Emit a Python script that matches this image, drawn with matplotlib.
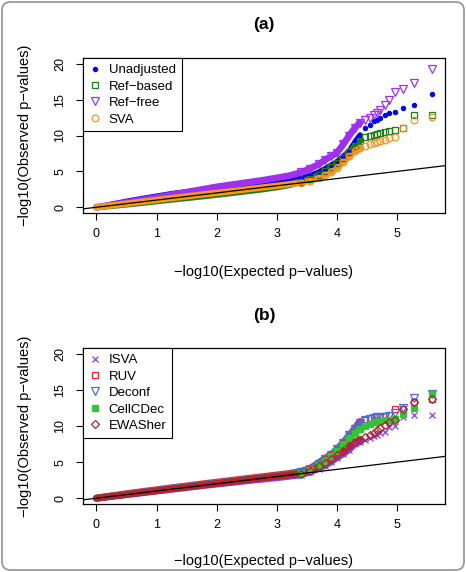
import matplotlib
matplotlib.use("Agg")
import matplotlib.pyplot as plt
from matplotlib.lines import Line2D
from matplotlib.patches import FancyBboxPatch

plt.rcParams["font.family"] = ["Liberation Sans", "DejaVu Sans"]

# --------------------------------------------------
# QQ data: shared expected -log10(p) grid, observed per method
# --------------------------------------------------
expected = [0, 0.25, 0.5, 0.75, 1.0, 1.25, 1.5, 1.75, 2.0, 2.25, 2.5, 2.75,
            3.0, 3.2, 3.4, 3.55, 3.7, 3.8, 3.9, 4.0, 4.1, 4.2, 4.3, 4.38,
            4.46, 4.54, 4.62, 4.67, 4.72, 4.79, 4.87, 4.97, 5.09, 5.27, 5.57]

# panel (a)
unadjusted = [0, 0.45, 0.86, 1.23, 1.58, 1.92, 2.2, 2.48, 2.72, 2.95, 3.15, 3.35,
              3.55, 3.75, 4.05, 4.45, 4.95, 5.4, 5.9, 6.4, 7.1, 7.9, 9.2, 10.1,
              11.1, 11.5, 12.0, 12.2, 12.4, 12.8, 13.1, 13.3, 13.8, 14.2, 15.8]
ref_based = [0, 0.2, 0.4, 0.62, 0.85, 1.08, 1.3, 1.52, 1.75, 2.0, 2.25, 2.5,
             2.8, 3.1, 3.55, 3.95, 4.5, 5.0, 5.6, 6.1, 6.8, 7.7, 8.5, 9.2,
             9.8, 10.0, 10.1, 10.2, 10.3, 10.5, 10.6, 10.7, 11.1, 12.9, 12.9]
ref_free = [0, 0.32, 0.66, 1.02, 1.38, 1.74, 2.1, 2.48, 2.85, 3.15, 3.45, 3.75,
            4.1, 4.4, 4.85, 5.4, 6.0, 6.6, 7.1, 7.6, 8.75, 10.0, 11.1, 11.8,
            12.1, 12.5, 12.8, 13.1, 13.5, 14.2, 15.0, 16.1, 16.5, 17.3, 19.3]
sva = [0, 0.25, 0.5, 0.77, 1.02, 1.27, 1.52, 1.77, 2.0, 2.25, 2.5, 2.75,
       3.0, 3.2, 3.45, 3.7, 4.1, 4.5, 4.9, 5.5, 6.3, 7.1, 7.8, 8.2,
       8.5, 8.8, 9.0, 9.1, 9.2, 9.4, 9.7, 9.8, 11.0, 12.2, 12.6]

# panel (b)
isva = [0, 0.24, 0.48, 0.72, 0.97, 1.2, 1.45, 1.7, 1.92, 2.15, 2.38, 2.6,
        2.8, 3.0, 3.2, 3.6, 4.1, 4.5, 5.0, 5.6, 6.1, 6.7, 7.5, 7.8,
        8.1, 8.4, 8.6, 8.75, 9.0, 9.2, 9.8, 10.0, 11.2, 11.5, 11.5]
ruv = [0, 0.3, 0.6, 0.88, 1.15, 1.42, 1.68, 1.95, 2.2, 2.45, 2.7, 2.95,
       3.2, 3.4, 3.7, 4.1, 4.9, 5.5, 6.0, 6.7, 7.6, 8.6, 9.7, 10.6,
       10.9, 11.1, 11.2, 11.3, 11.3, 11.4, 11.5, 12.3, 12.4, 13.3, 13.7]
deconf = [0, 0.28, 0.55, 0.83, 1.1, 1.37, 1.63, 1.88, 2.12, 2.37, 2.62, 2.86,
          3.1, 3.32, 3.6, 4.0, 4.8, 5.4, 6.0, 6.8, 7.7, 8.7, 9.6, 10.4,
          10.8, 11.0, 11.1, 11.2, 11.2, 11.3, 11.4, 11.8, 12.5, 13.9, 14.5]
cellcdec = [0, 0.27, 0.53, 0.8, 1.06, 1.32, 1.58, 1.84, 2.1, 2.35, 2.6, 2.85,
            3.1, 3.3, 3.55, 3.9, 4.6, 5.2, 5.8, 6.6, 7.5, 8.3, 9.0, 9.6,
            10.0, 10.3, 10.5, 10.6, 10.7, 10.8, 10.9, 11.0, 11.7, 12.5, 14.4]
ewasher = [0, 0.26, 0.51, 0.77, 1.02, 1.28, 1.53, 1.79, 2.04, 2.3, 2.55, 2.8,
           3.05, 3.25, 3.4, 3.8, 4.4, 4.9, 5.4, 6.0, 6.6, 7.2, 7.8, 8.1,
           8.5, 8.8, 9.1, 9.4, 9.7, 10.1, 10.5, 10.8, 12.4, 13.3, 13.7]

series_a = [
    ("Unadjusted", unadjusted, dict(marker="o", color="#0000EE", ms=3.0, filled=True, band=3.6)),
    ("Ref\u2212based", ref_based, dict(marker="s", color="#1E7B1E", ms=4.6, filled=False, band=4.6)),
    ("Ref\u2212free", ref_free, dict(marker="v", color="#A030F0", ms=5.4, filled=False, band=4.8)),
    ("SVA", sva, dict(marker="o", color="#F7961E", ms=4.8, filled=False, band=4.6)),
]
series_b = [
    ("ISVA", isva, dict(marker="x", color="#8A3FE2", ms=4.6, filled=True, band=4.6)),
    ("RUV", ruv, dict(marker="s", color="#E8282E", ms=4.6, filled=False, band=5.2)),
    ("Deconf", deconf, dict(marker="v", color="#4A6CE0", ms=5.4, filled=False, band=5.0)),
    ("CellCDec", cellcdec, dict(marker="s", color="#33C433", ms=3.8, filled=True, band=4.4)),
    ("EWASher", ewasher, dict(marker="D", color="#B0252E", ms=4.2, filled=False, band=5.0)),
]

BAND_CUT = 4.4     # up to here the points merge into one solid band
MARK_FROM = 3.4    # separate markers are visible from here on


def draw_panel(ax, series, title, title_y, label_y):
    for name, obs, st in series:
        band_x = [e for e in expected if e <= BAND_CUT]
        band_y = obs[:len(band_x)]
        ax.plot(band_x, band_y, "-", color=st["color"], lw=st["band"],
                solid_capstyle="round", zorder=2)
        mx = [e for e in expected if e >= MARK_FROM]
        my = obs[len(expected) - len(mx):]
        face = st["color"] if st["filled"] else "none"
        ax.plot(mx, my, linestyle="none", marker=st["marker"], ms=st["ms"],
                mfc=face, mec=st["color"], mew=0.9, zorder=3)

    xr = max(expected) - min(expected)
    ax.set_xlim(min(expected) - 0.04 * xr, max(expected) + 0.04 * xr)
    ax.set_ylim(-0.8, 20.8)
    lo, hi = ax.get_xlim()
    ax.plot([lo, hi], [lo, hi], color="black", lw=0.9, zorder=4)

    ax.set_xticks([0, 1, 2, 3, 4, 5])
    ax.set_yticks([0, 5, 10, 15, 20])
    ax.tick_params(direction="out", length=5, width=0.8, labelsize=9, pad=6)
    ax.tick_params(axis="y", pad=7)
    for lab in ax.get_yticklabels():
        lab.set_rotation(90)
        lab.set_va("center")
    for sp in ax.spines.values():
        sp.set_linewidth(0.9)

    handles = []
    for name, obs, st in series:
        face = st["color"] if st["filled"] else "none"
        handles.append(Line2D([], [], linestyle="none", marker=st["marker"],
                              ms=st["ms"], mfc=face, mec=st["color"], mew=0.9,
                              label=name))
    leg = ax.legend(handles=handles, loc="upper left", bbox_to_anchor=(0, 1),
                    borderaxespad=0, fancybox=False, edgecolor="black",
                    framealpha=1, fontsize=9.5, handlelength=0.9,
                    handletextpad=0.6, borderpad=0.45, labelspacing=0.32)
    leg.get_frame().set_linewidth(0.8)

    bb = ax.get_position()
    fig.text((bb.x0 + bb.x1) / 2, title_y, title, ha="center", va="center",
             fontsize=12.5, fontweight="bold")
    fig.text((bb.x0 + bb.x1) / 2, label_y, "\u2212log10(Expected p\u2212values)",
             ha="center", va="center", fontsize=10.5)
    fig.text(25 / 466, (bb.y0 + bb.y1) / 2, "\u2212log10(Observed p\u2212values)",
             ha="center", va="center", rotation=90, fontsize=10.5)


fig = plt.figure(figsize=(4.66, 5.72), dpi=100)
W, H = 466, 572
ax_a = fig.add_axes([83 / W, 1 - 213 / H, (445 - 83) / W, (213 - 58) / H])
ax_b = fig.add_axes([83 / W, 1 - 504 / H, (445 - 83) / W, (504 - 348) / H])

draw_panel(ax_a, series_a, "(a)", 1 - 25 / H, 1 - 272 / H)
draw_panel(ax_b, series_b, "(b)", 1 - 316 / H, 1 - 561 / H)

frame = FancyBboxPatch((2 / W, 2 / H), 1 - 4 / W, 1 - 4 / H,
                       boxstyle="round,pad=0,rounding_size=0.018",
                       mutation_aspect=W / H, transform=fig.transFigure,
                       fc="none", ec="#9a9a9a", lw=1.3)
fig.patches.append(frame)

fig.savefig("out.png", dpi=100)
